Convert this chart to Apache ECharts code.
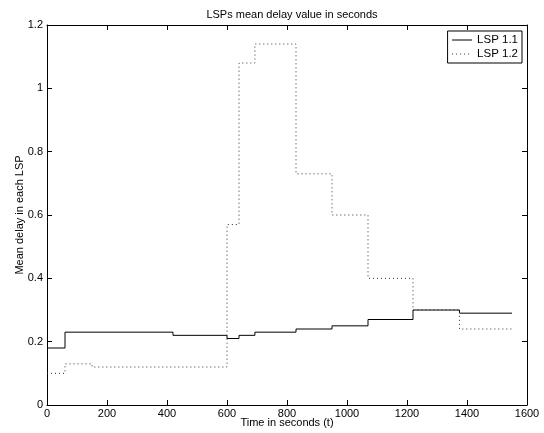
<!DOCTYPE html>
<html>
<head>
<meta charset="utf-8">
<script src="https://cdn.jsdelivr.net/npm/echarts@6/dist/echarts.min.js"></script>
<style>
html,body{margin:0;padding:0;background:#fff;}
#chart{width:544px;height:433px;}
</style>
</head>
<body>
<div id="chart"></div>
<script>
// Step breakpoints (start time of each level) and the level values
var lsp11Times = [0, 60, 420, 600, 640, 693, 830, 950, 1070, 1220, 1375, 1550];
var lsp11Values = [0.18, 0.23, 0.22, 0.21, 0.22, 0.23, 0.24, 0.25, 0.27, 0.30, 0.29, 0.29];
var lsp12Times = [0, 60, 150, 600, 640, 693, 830, 950, 1070, 1220, 1375, 1550];
var lsp12Values = [0.10, 0.13, 0.12, 0.57, 1.08, 1.14, 0.73, 0.60, 0.40, 0.30, 0.24, 0.24];
var xTicks = [0, 200, 400, 600, 800, 1000, 1200, 1400, 1600];
var yTicks = [0, 0.2, 0.4, 0.6, 0.8, 1, 1.2];

function pairs(t, v) {
  var out = [];
  for (var i = 0; i < t.length; i++) out.push([t[i], v[i]]);
  return out;
}

var font = 'Liberation Sans, Arial, Helvetica, sans-serif';
var chart = echarts.init(document.getElementById('chart'));
var axisCommon = {
  axisLine: {show: true, onZero: false, lineStyle: {color: '#000', width: 1}},
  axisTick: {show: true, inside: true, length: 5, lineStyle: {color: '#000'}},
  splitLine: {show: false}
};
chart.setOption({
  animation: false,
  backgroundColor: '#fff',
  title: {
    text: 'LSPs mean delay value in seconds',
    left: 287, top: 4, textAlign: 'center',
    textStyle: {fontFamily: font, fontSize: 11, fontWeight: 'normal', color: '#000'}
  },
  legend: {
    orient: 'vertical',
    right: 22, top: 31,
    backgroundColor: '#fff',
    borderColor: '#000', borderWidth: 1, borderRadius: 0,
    padding: [3, 4, 3, 4],
    itemWidth: 20, itemHeight: 10, itemGap: 2,
    itemStyle: {color: 'transparent', borderWidth: 0, opacity: 0},
    lineStyle: {width: 1},
    textStyle: {fontFamily: font, fontSize: 11.5, color: '#000', padding: [0, 0, 0, 0]},
    data: ['LSP 1.1', 'LSP 1.2']
  },
  grid: {left: 47, right: 17, top: 25, bottom: 28, containLabel: false, outerBoundsMode: 'none'},
  xAxis: [
    Object.assign({
      type: 'value', min: 0, max: 1600, interval: 200, position: 'bottom',
      name: 'Time in seconds (t)', nameLocation: 'middle', nameGap: 12,
      nameMoveOverlap: false,
      nameTextStyle: {fontFamily: font, fontSize: 11, color: '#000'},
      axisLabel: {fontFamily: font, fontSize: 11, color: '#000', margin: 3,
        formatter: function (v) { return xTicks.indexOf(v) >= 0 ? String(v) : ''; }}
    }, axisCommon),
    Object.assign({
      type: 'value', min: 0, max: 1600, interval: 200, position: 'top',
      axisLabel: {show: false}
    }, axisCommon)
  ],
  yAxis: [
    Object.assign({
      type: 'value', min: 0, max: 1.2, interval: 0.2, position: 'left',
      name: 'Mean delay in each LSP', nameLocation: 'middle', nameGap: 22,
      nameMoveOverlap: false,
      nameTextStyle: {fontFamily: font, fontSize: 11, color: '#000'},
      axisLabel: {fontFamily: font, fontSize: 11, color: '#000', margin: 4,
        formatter: function (v) {
          for (var i = 0; i < yTicks.length; i++) {
            if (Math.abs(yTicks[i] - v) < 1e-9) return String(yTicks[i]);
          }
          return '';
        }}
    }, axisCommon),
    Object.assign({
      type: 'value', min: 0, max: 1.2, interval: 0.2, position: 'right',
      axisLabel: {show: false}
    }, axisCommon)
  ],
  series: [
    {
      name: 'LSP 1.1', type: 'line', step: 'end', symbol: 'none',
      xAxisIndex: 0, yAxisIndex: 0,
      lineStyle: {color: '#000', width: 1, type: 'solid'},
      itemStyle: {color: '#000'},
      data: pairs(lsp11Times, lsp11Values)
    },
    {
      name: 'LSP 1.2', type: 'line', step: 'end', symbol: 'none',
      xAxisIndex: 0, yAxisIndex: 0,
      lineStyle: {color: '#333', width: 1, type: [1, 3]},
      itemStyle: {color: '#333'},
      data: pairs(lsp12Times, lsp12Values)
    }
  ]
});
</script>
</body>
</html>
